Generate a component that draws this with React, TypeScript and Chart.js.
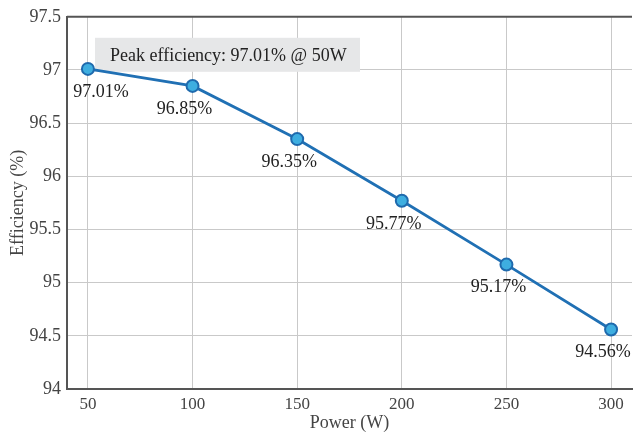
import React, { useEffect, useRef } from "react";
import { Chart, registerables } from "chart.js";

Chart.register(...registerables);

const powers = [50, 100, 150, 200, 250, 300];
const efficiency = [97.01, 96.85, 96.35, 95.77, 95.17, 94.56];
const xTicks = [50, 100, 150, 200, 250, 300];
const pointLabels = ["97.01%", "96.85%", "96.35%", "95.77%", "95.17%", "94.56%"];
const annotationText = "Peak efficiency: 97.01% @ 50W";
const xTitle = "Power (W)";
const yTitle = "Efficiency (%)";

const SERIF = "'Liberation Serif', 'DejaVu Serif', serif";

const decorPlugin = {
  id: "decor",
  beforeDatasetsDraw(chart: any) {
    const { ctx, chartArea } = chart;
    ctx.save();
    const bx = chartArea.left + 28;
    const by = chartArea.top + 21;
    const bw = 265;
    const bh = 34;
    ctx.fillStyle = "#e6e7e8";
    ctx.fillRect(bx, by, bw, bh);
    ctx.fillStyle = "#222";
    ctx.font = `18px ${SERIF}`;
    ctx.textAlign = "left";
    ctx.textBaseline = "middle";
    ctx.fillText(annotationText, bx + 15, by + bh / 2 + 1);
    ctx.restore();
  },
  afterDatasetsDraw(chart: any) {
    const { ctx, chartArea } = chart;
    const xs = chart.scales.x;
    const ys = chart.scales.y;
    ctx.save();
    ctx.fillStyle = "#222";
    ctx.font = `18px ${SERIF}`;
    ctx.textAlign = "center";
    ctx.textBaseline = "middle";
    powers.forEach((p, i) => {
      const px = xs.getPixelForValue(p);
      const py = ys.getPixelForValue(efficiency[i]);
      const dx = i === 0 ? 13 : -8;
      ctx.fillText(pointLabels[i], px + dx, py + 23);
    });
    ctx.strokeStyle = "#555";
    ctx.lineWidth = 2;
    ctx.beginPath();
    ctx.moveTo(chartArea.left, chartArea.top);
    ctx.lineTo(chartArea.right, chartArea.top);
    ctx.stroke();
    ctx.restore();
  },
};

export default function App() {
  const ref = useRef<HTMLCanvasElement>(null);
  useEffect(() => {
    if (!ref.current) return;
    const chart = new Chart(ref.current, {
      type: "line",
      data: {
        datasets: [
          {
            data: powers.map((p, i) => ({ x: p, y: efficiency[i] })),
            borderColor: "#2070b4",
            borderWidth: 2.8,
            backgroundColor: "#3eaee0",
            pointBackgroundColor: "#3eaee0",
            pointBorderColor: "#1f6aad",
            pointBorderWidth: 2,
            pointRadius: 6,
            tension: 0,
          },
        ],
      },
      options: {
        responsive: false,
        animation: false,
        devicePixelRatio: 1,
        layout: { padding: { top: 14, right: 6, left: 0, bottom: 0 } },
        plugins: { legend: { display: false }, tooltip: { enabled: false } },
        scales: {
          x: {
            type: "linear",
            min: 40,
            max: 310,
            afterBuildTicks: (s: any) => {
              s.ticks = xTicks.map((v) => ({ value: v }));
            },
            afterFit: (s: any) => {
              s.height = 50;
            },
            grid: { color: "#c9c9c9", lineWidth: 1, drawTicks: false },
            border: { color: "#555", width: 2 },
            ticks: {
              color: "#444",
              font: { family: SERIF, size: 17 },
              padding: 5,
              maxRotation: 0,
              callback: (v: any) => String(v),
            },
            title: {
              display: true,
              text: xTitle,
              color: "#444",
              font: { family: SERIF, size: 18 },
              padding: { top: 0, bottom: 5 },
            },
          },
          y: {
            type: "linear",
            min: 94,
            max: 97.5,
            ticks: {
              stepSize: 0.5,
              color: "#444",
              font: { family: SERIF, size: 18 },
              padding: 6,
              callback: (v: any) => String(Math.round(Number(v) * 10) / 10),
            },
            afterFit: (s: any) => {
              s.width = 67;
            },
            grid: { color: "#c9c9c9", lineWidth: 1, drawTicks: false },
            border: { color: "#555", width: 2 },
            title: {
              display: true,
              text: yTitle,
              color: "#444",
              font: { family: SERIF, size: 18 },
              padding: { top: 7, bottom: 0 },
            },
          },
        },
      },
      plugins: [decorPlugin],
    } as any);
    return () => chart.destroy();
  }, []);
  return (
    <div style={{ position: "fixed", left: 0, top: 0, width: 634, height: 439, overflow: "hidden", background: "#fff" }}>
      <canvas ref={ref} width={640} height={439} style={{ display: "block", width: 640, height: 439 }} />
    </div>
  );
}
